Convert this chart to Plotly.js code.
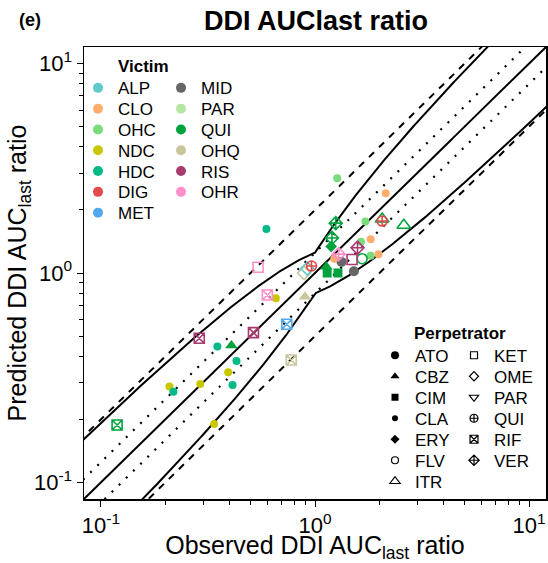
<!DOCTYPE html>
<html><head><meta charset="utf-8">
<script src="https://cdn.plot.ly/plotly-3.0.1.min.js"></script>
<style>html,body{margin:0;padding:0;background:#fff}#chart{width:548px;height:563px}</style>
</head><body><div id="chart"></div>
<script>
// ---- categories ----
const victims = ['ALP','CLO','OHC','NDC','HDC','DIG','MET','MID','PAR','QUI','OHQ','RIS','OHR'];
const victimColors = ['#5FCACC','#FDAE6B','#7ADB7A','#C9C800','#00B987','#E04A4A','#52A8EE','#666666','#B6E6A4','#00A23E','#C9C69C','#A83A70','#FF8EC9'];
const perpetrators = ['ATO','CBZ','CIM','CLA','ERY','FLV','ITR','KET','OME','PAR','QUI','RIF','VER'];
const perpSymbols = ['circle','triangle-up','square','circle','diamond','circle-open','triangle-up-open','square-open','diamond-open','triangle-down-open','circle-cross-open','square-x-open','diamond-cross-open'];

// ---- data points (victim, perpetrator, observed, predicted) ----
const pointVictim = ['OHC','CLO','OHC','QUI','DIG','QUI','QUI','QUI','QUI','OHC','CLO','RIS','OHR','CLO','MID','RIS','QUI','OHC','CLO','MID','QUI','QUI','QUI','DIG','OHQ','ALP','OHQ','HDC','OHR','OHR','NDC','MET','RIS','RIS','HDC','QUI','OHQ','NDC','HDC','NDC','NDC','HDC','HDC','NDC','QUI'];
const pointPerp   = ['CLA','CLA','CLA','ITR','QUI','ITR','VER','VER','ERY','CLA','CLA','VER','VER','CLA','ATO','KET','FLV','CLA','CLA','ATO','CIM','CIM','CBZ','QUI','OME','OME','CBZ','CLA','KET','RIF','CLA','RIF','RIF','RIF','CLA','CBZ','RIF','CLA','CLA','CLA','CLA','CLA','CLA','CLA','RIF'];
const observed    = [1.27,2.14,1.72,2.06,2.06,2.60,1.25,1.20,1.19,1.64,1.82,1.58,1.29,1.23,1.33,1.49,1.66,1.82,1.98,1.52,1.14,1.28,1.13,0.963,0.889,0.92,0.898,0.593,0.542,0.599,0.656,0.738,0.516,0.288,0.350,0.407,0.775,0.209,0.218,0.291,0.393,0.430,0.412,0.338,0.119];
const predicted   = [2.83,2.40,1.76,1.81,1.77,1.69,1.73,1.47,1.34,1.41,1.45,1.32,1.23,1.17,1.13,1.16,1.17,1.21,1.23,1.02,1.00,1.00,1.07,1.08,1.00,1.05,0.77,1.62,1.065,0.785,0.757,0.569,0.519,0.488,0.446,0.451,0.384,0.287,0.271,0.295,0.336,0.380,0.292,0.190,0.188];

// ---- tick labels ----
const majorTicks = [0.1, 1, 10];
const majorTickText = ['10<sup>-1</sup>','10<sup>0</sup>','10<sup>1</sup>'];

// ---- styles (not data) ----
const perpSizes = {ATO:10,CBZ:11,CIM:9,CLA:8,ERY:9,FLV:10,ITR:12,KET:10,OME:10,PAR:10,QUI:10,RIF:10,VER:10};
const perpLegendSizes = {ATO:8,CBZ:8,CIM:7,CLA:6,ERY:7,FLV:7,ITR:9,KET:7,OME:7,PAR:8,QUI:8,RIF:8,VER:8};
const minorVals = [];
[0.1,1].forEach(d => { for (let k=2;k<=9;k++) minorVals.push(+(d*k).toFixed(3)); });

// plot-area pixel helpers for layout placement
const PL = 84, PR = 546, PT = 47, PB = 499;
const px = v => (v - PL) / (PR - PL);
const py = v => 1 - (v - PT) / (PB - PT);

// reference lines
const delta = 1.25;
const lineX = [];
for (let i=0;i<=600;i++) lineX.push(Math.pow(10, -1.15 + 2.3*i/600));
function guestLimit(r){ const R = r>=1 ? r : 1/r; return (delta + 2*(R-1))/R; }

const traces = [];
const lineStyle = (dash,w)=>({color:'black', width:w, dash:dash});
traces.push({x:lineX, y:lineX.map(v=>v*2), mode:'lines', line:lineStyle('7px,7px',2), showlegend:false, hoverinfo:'skip'});
traces.push({x:lineX, y:lineX.map(v=>v/2), mode:'lines', line:lineStyle('7px,7px',2), showlegend:false, hoverinfo:'skip'});
traces.push({x:lineX, y:lineX.map(v=>v*1.25), mode:'lines', line:lineStyle('2px,8px',2.2), showlegend:false, hoverinfo:'skip'});
traces.push({x:lineX, y:lineX.map(v=>v/1.25), mode:'lines', line:lineStyle('2px,8px',2.2), showlegend:false, hoverinfo:'skip'});
traces.push({x:lineX, y:lineX.slice(), mode:'lines', line:lineStyle('solid',2), showlegend:false, hoverinfo:'skip'});
traces.push({x:lineX, y:lineX.map(v=>v*guestLimit(v)), mode:'lines', line:lineStyle('solid',2), showlegend:false, hoverinfo:'skip'});
traces.push({x:lineX, y:lineX.map(v=>v/guestLimit(v)), mode:'lines', line:lineStyle('solid',2), showlegend:false, hoverinfo:'skip'});

// data points, one trace per perpetrator
perpetrators.forEach((p, pi) => {
  const idx = pointPerp.map((q,i)=>q===p?i:-1).filter(i=>i>=0);
  if (!idx.length) return;
  const cols = idx.map(i => victimColors[victims.indexOf(pointVictim[i])]);
  const open = perpSymbols[pi].includes('open');
  traces.push({
    x: idx.map(i=>observed[i]), y: idx.map(i=>predicted[i]),
    mode:'markers', type:'scatter', showlegend:false,
    marker:{symbol:perpSymbols[pi], size:perpSizes[p], color:cols,
            line:{width: open?1.6:0, color:cols}}
  });
});

// legends: one small legend per entry so rows can sit at the reference spacing
const legends = {};
const legBase = {xanchor:'left', yanchor:'middle', bgcolor:'rgba(0,0,0,0)', borderwidth:0, font:{size:17, color:'black'}, tracegroupgap:0, itemclick:false, itemdoubleclick:false};
let legN = 0;
function addLegend(trace, xLeftPx, yCenterPx){
  legN += 1;
  const key = legN === 1 ? 'legend' : 'legend' + legN;
  trace.legend = key;
  legends[key] = Object.assign({}, legBase, {x: px(xLeftPx), y: py(yCenterPx)});
  traces.push(trace);
}
const rowStep = 20.8;
victims.forEach((v, i) => {
  const col = i < 7 ? 0 : 1, row = i < 7 ? i : i - 7;
  addLegend({x:[null], y:[null], mode:'markers', name:v,
    marker:{symbol:'circle', size:10, color:victimColors[i]}},
    col === 0 ? 78 : 161, 88.3 + row*rowStep);
});
perpetrators.forEach((p, i) => {
  const col = i < 7 ? 0 : 1, row = i < 7 ? i : i - 7;
  const open = perpSymbols[i].includes('open');
  addLegend({x:[null], y:[null], mode:'markers', name:p,
    marker:{symbol:perpSymbols[i], size:perpLegendSizes[p], color:'black', line:{width: open?1.2:0, color:'black'}}},
    col === 0 ? 375 : 454, 355.7 + row*21);
});

const axisBase = {
  type:'log', range:[-1.079, 1.079], showgrid:false, zeroline:false,
  showline:true, mirror:true, linecolor:'black', linewidth:1.5,
  ticks:'outside', ticklen:6, tickwidth:1, tickcolor:'black',
  tickmode:'array', tickvals:majorTicks, ticktext:majorTickText, tickfont:{size:22, color:'black'},
  minor:{tickmode:'array', tickvals:minorVals, ticks:'outside', ticklen:4, tickwidth:1, tickcolor:'black', showgrid:false},
  automargin:false
};

const layout = Object.assign({
  width:548, height:563,
  margin:{l:PL, r:548-PR, t:PT, b:563-PB},
  paper_bgcolor:'white', plot_bgcolor:'white',
  font:{family:'Liberation Sans, Arial, sans-serif', color:'black'},
  title:{text:'<b>DDI AUClast ratio</b>', font:{size:27, color:'black'}, xref:'container', yref:'container', x:316/548, xanchor:'center', y:1-21/563, yanchor:'middle'},
  xaxis:Object.assign({}, axisBase, {title:{text:'Observed DDI AUC<sub>last</sub> ratio', font:{size:25}, standoff:10}}),
  yaxis:Object.assign({}, axisBase, {title:{text:'Predicted DDI AUC<sub>last</sub> ratio', font:{size:25}, standoff:0}}),
  showlegend:true,
  annotations:[
    {text:'<b>(e)</b>', xref:'paper', yref:'paper', x:px(30), y:py(20), xanchor:'center', yanchor:'middle', showarrow:false, font:{size:18}},
    {text:'<b>Victim</b>', xref:'paper', yref:'paper', x:px(116), y:py(67), xanchor:'left', yanchor:'middle', showarrow:false, font:{size:17}},
    {text:'<b>Perpetrator</b>', xref:'paper', yref:'paper', x:px(412), y:py(333), xanchor:'left', yanchor:'middle', showarrow:false, font:{size:17}}
  ]
}, legends);

Plotly.newPlot('chart', traces, layout, {staticPlot:true, displayModeBar:false});
</script>
</body></html>
